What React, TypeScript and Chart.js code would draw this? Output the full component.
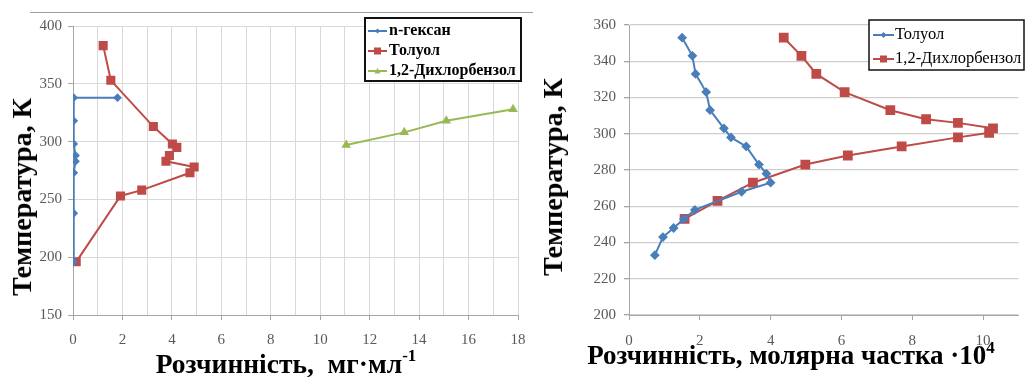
import React, { useEffect, useRef } from "react";
import { Chart, registerables } from "chart.js";

Chart.register(...registerables);

const FONT = '"Liberation Serif", "Times New Roman", serif';

// ---------- Left chart data (solubility, mg/ml) ----------
const hexaneX = [0.03, 0.03, 0.03, 0.1, 0.1, 0.03, 0.03, 0.03, 1.8];
const hexaneT = [196, 238, 273, 283, 288, 298, 318, 338, 338];

const tolueneLX = [1.22, 1.53, 3.25, 4.02, 4.2, 3.9, 3.76, 4.9, 4.73, 2.78, 1.92, 0.13];
const tolueneLT = [383, 353, 313, 298, 295, 288, 283, 278, 273, 258, 253, 196];

const dcbLX = [11.05, 13.4, 15.1, 17.8];
const dcbLT = [297, 308, 318, 328];

const leftLegendLabels = ["n-гексан", "Толуол", "1,2-Дихлорбензол"];

// ---------- Right chart data (mole fraction ·10^4) ----------
const tolueneRX = [1.5, 1.79, 1.88, 2.18, 2.29, 2.68, 2.88, 3.31, 3.67, 3.88, 4.0, 3.18, 1.86, 1.55, 1.26, 0.96, 0.73];
const tolueneRT = [353, 343, 333, 323, 313, 303, 298, 293, 283, 278, 273, 268, 258, 253, 248, 243, 233];

const dcbRX = [4.37, 4.87, 5.29, 6.09, 7.38, 8.39, 9.29, 10.28, 10.17, 9.29, 7.7, 6.18, 4.98, 3.5, 2.5, 1.57];
const dcbRT = [353, 343, 333, 323, 313, 308, 306, 303, 300.5, 298, 293, 288, 283, 273, 263, 253];

const rightLegendLabels = ["Толуол", "1,2-Дихлорбензол"];

const yTitle = "Температура, К";
const leftXTitle = "Розчинність,  мг·мл";
const leftXSup = "-1";
const rightXTitle = "Розчинність, молярна частка ·10";
const rightXSup = "4";

const BLUE = "#4A7EBB";
const RED = "#BE4B48";
const GREEN = "#98B954";

function pts(xs: number[], ys: number[]) {
  return xs.map((x, i) => ({ x, y: ys[i] }));
}

function drawMarker(ctx: CanvasRenderingContext2D, style: string, x: number, y: number, r: number, color: string) {
  ctx.save();
  ctx.fillStyle = color;
  ctx.beginPath();
  if (style === "rect") {
    ctx.rect(x - r, y - r, 2 * r, 2 * r);
  } else if (style === "rectRot") {
    ctx.moveTo(x, y - r);
    ctx.lineTo(x + r, y);
    ctx.lineTo(x, y + r);
    ctx.lineTo(x - r, y);
    ctx.closePath();
  } else {
    ctx.moveTo(x, y - r);
    ctx.lineTo(x + r, y + r * 0.8);
    ctx.lineTo(x - r, y + r * 0.8);
    ctx.closePath();
  }
  ctx.fill();
  ctx.restore();
}

const boxLegend = {
  id: "boxLegend",
  afterDraw(chart: any, _args: any, opts: any) {
    const ctx: CanvasRenderingContext2D = chart.ctx;
    const b = opts.box;
    ctx.save();
    ctx.fillStyle = "#fff";
    ctx.fillRect(b.x, b.y, b.w, b.h);
    ctx.strokeStyle = "#111";
    ctx.lineWidth = opts.borderWidth;
    ctx.strokeRect(b.x, b.y, b.w, b.h);
    opts.items.forEach((it: any, i: number) => {
      const y = opts.firstY + i * opts.step;
      ctx.strokeStyle = it.color;
      ctx.lineWidth = 2;
      ctx.beginPath();
      ctx.moveTo(opts.lineX1, y);
      ctx.lineTo(opts.lineX2, y);
      ctx.stroke();
      drawMarker(ctx, it.marker, (opts.lineX1 + opts.lineX2) / 2, y, it.size, it.color);
      ctx.fillStyle = "#000";
      ctx.font = opts.font;
      ctx.textBaseline = "middle";
      ctx.textAlign = "left";
      ctx.fillText(it.text, opts.textX, y);
    });
    ctx.restore();
  },
};

function useChart(ref: React.RefObject<HTMLCanvasElement>, makeConfig: () => any) {
  useEffect(() => {
    if (!ref.current) return;
    const chart = new Chart(ref.current, makeConfig());
    return () => chart.destroy();
  }, []);
}

const tickFont = { family: FONT, size: 15 };

function fitX(height: number) {
  return (s: any) => {
    s.height = height;
    s.paddingLeft = 0;
    s.paddingRight = 0;
  };
}

function leftConfig() {
  return {
    type: "scatter",
    data: {
      datasets: [
        {
          label: leftLegendLabels[0],
          data: pts(hexaneX, hexaneT),
          showLine: true,
          borderColor: BLUE,
          backgroundColor: BLUE,
          borderWidth: 2,
          pointStyle: "rectRot",
          pointRadius: 3,
        },
        {
          label: leftLegendLabels[1],
          data: pts(tolueneLX, tolueneLT),
          showLine: true,
          borderColor: RED,
          backgroundColor: RED,
          borderWidth: 2,
          pointStyle: "rect",
          pointRadius: 5,
        },
        {
          label: leftLegendLabels[2],
          data: pts(dcbLX, dcbLT),
          showLine: true,
          borderColor: GREEN,
          backgroundColor: GREEN,
          borderWidth: 2,
          pointStyle: "triangle",
          pointRadius: 3.5,
        },
      ],
    },
    options: {
      responsive: false,
      animation: false,
      layout: { padding: { top: 26, right: 12, bottom: 0, left: 0 } },
      plugins: {
        legend: { display: false },
        tooltip: { enabled: false },
        boxLegend: {
          box: { x: 365, y: 18, w: 156, h: 63 },
          borderWidth: 2,
          firstY: 31,
          step: 20,
          lineX1: 368,
          lineX2: 387,
          textX: 389,
          font: `bold 16px ${FONT}`,
          items: [
            { text: leftLegendLabels[0], color: BLUE, marker: "rectRot", size: 2.5 },
            { text: leftLegendLabels[1], color: RED, marker: "rect", size: 3.5 },
            { text: leftLegendLabels[2], color: GREEN, marker: "tri", size: 3 },
          ],
        },
      },
      scales: {
        x: {
          type: "linear",
          min: 0,
          max: 18,
          afterFit: fitX(62),
          ticks: {
            stepSize: 1,
            autoSkip: false,
            maxRotation: 0,
            padding: 11,
            color: "#595959",
            font: tickFont,
            callback: (v: any) => (v % 2 === 0 ? String(v) : ""),
          },
          grid: { color: "#d9d9d9", tickLength: 5, tickColor: (c: any) => (c.tick && c.tick.value % 2 === 0 ? "#a6a6a6" : "transparent") },
          border: { color: "#a6a6a6" },
        },
        y: {
          type: "linear",
          min: 150,
          max: 400,
          afterFit: (s: any) => {
            s.width = 73;
          },
          ticks: { stepSize: 50, padding: 6, color: "#595959", font: tickFont },
          grid: { color: "#d9d9d9", tickLength: 5, tickColor: "#a6a6a6" },
          border: { color: "#a6a6a6" },
        },
      },
    },
    plugins: [boxLegend],
  };
}

function rightConfig() {
  return {
    type: "scatter",
    data: {
      datasets: [
        {
          label: rightLegendLabels[0],
          data: pts(tolueneRX, tolueneRT),
          showLine: true,
          borderColor: BLUE,
          backgroundColor: BLUE,
          borderWidth: 2,
          pointStyle: "rectRot",
          pointRadius: 3.5,
        },
        {
          label: rightLegendLabels[1],
          data: pts(dcbRX, dcbRT),
          showLine: true,
          borderColor: RED,
          backgroundColor: RED,
          borderWidth: 2,
          pointStyle: "rect",
          pointRadius: 5.5,
        },
      ],
    },
    options: {
      responsive: false,
      animation: false,
      layout: { padding: { top: 25, right: 5, bottom: 0, left: 0 } },
      plugins: {
        legend: { display: false },
        tooltip: { enabled: false },
        boxLegend: {
          box: { x: 339, y: 20, w: 155, h: 50 },
          borderWidth: 1.5,
          firstY: 35,
          step: 24,
          lineX1: 343,
          lineX2: 364,
          textX: 365,
          font: `16.5px ${FONT}`,
          items: [
            { text: rightLegendLabels[0], color: BLUE, marker: "rectRot", size: 3 },
            { text: rightLegendLabels[1], color: RED, marker: "rect", size: 3.5 },
          ],
        },
      },
      scales: {
        x: {
          type: "linear",
          min: 0,
          max: 11,
          afterFit: fitX(62),
          ticks: {
            stepSize: 2,
            autoSkip: false,
            maxRotation: 0,
            padding: 12,
            color: "#595959",
            font: tickFont,
            callback: (v: any) => (v % 2 === 0 ? String(v) : ""),
          },
          grid: {
            drawOnChartArea: false,
            tickLength: 5,
            color: (c: any) => (c.tick && c.tick.value % 2 === 0 ? "#a6a6a6" : "transparent"),
          },
          border: { color: "#a6a6a6" },
        },
        y: {
          type: "linear",
          min: 200,
          max: 360,
          afterFit: (s: any) => {
            s.width = 99;
          },
          ticks: { stepSize: 20, padding: 8, color: "#595959", font: tickFont },
          grid: { color: "#cfcfcf", lineWidth: 1.3, tickLength: 5, tickColor: "#a6a6a6" },
          border: { color: "#a6a6a6" },
        },
      },
    },
    plugins: [boxLegend],
  };
}

const titleBase: React.CSSProperties = {
  position: "absolute",
  fontFamily: FONT,
  fontWeight: "bold",
  color: "#000",
  whiteSpace: "pre",
  lineHeight: 1,
};

const supStyle: React.CSSProperties = { fontSize: 17, verticalAlign: "top", position: "relative", top: -3 };

export default function App() {
  const leftRef = useRef<HTMLCanvasElement>(null);
  const rightRef = useRef<HTMLCanvasElement>(null);
  useChart(leftRef, leftConfig);
  useChart(rightRef, rightConfig);

  return (
    <div style={{ position: "absolute", left: 0, top: 0, width: 1026, height: 377, background: "#fff", overflow: "hidden" }}>
      <canvas ref={leftRef} width={530} height={377} style={{ position: "absolute", left: 0, top: 0, width: 530, height: 377 }} />
      <canvas ref={rightRef} width={496} height={377} style={{ position: "absolute", left: 530, top: 0, width: 496, height: 377 }} />
      <div style={{ position: "absolute", left: 30, top: 12, width: 503, height: 1, background: "#a0a0a0" }} />
      <div
        style={{
          ...titleBase,
          fontSize: 28,
          left: 22,
          top: 197,
          transform: "translate(-50%, -50%) rotate(-90deg)",
        }}
      >
        {yTitle}
      </div>
      <div
        style={{
          ...titleBase,
          fontSize: 28,
          left: 553,
          top: 177,
          transform: "translate(-50%, -50%) rotate(-90deg)",
        }}
      >
        {yTitle}
      </div>
      <div style={{ ...titleBase, fontSize: 27.5, left: 286, top: 350, transform: "translateX(-50%)" }}>
        {leftXTitle}
        <sup style={supStyle}>{leftXSup}</sup>
      </div>
      <div style={{ ...titleBase, fontSize: 27, left: 791, top: 342, transform: "translateX(-50%)" }}>
        {rightXTitle}
        <sup style={supStyle}>{rightXSup}</sup>
      </div>
    </div>
  );
}
